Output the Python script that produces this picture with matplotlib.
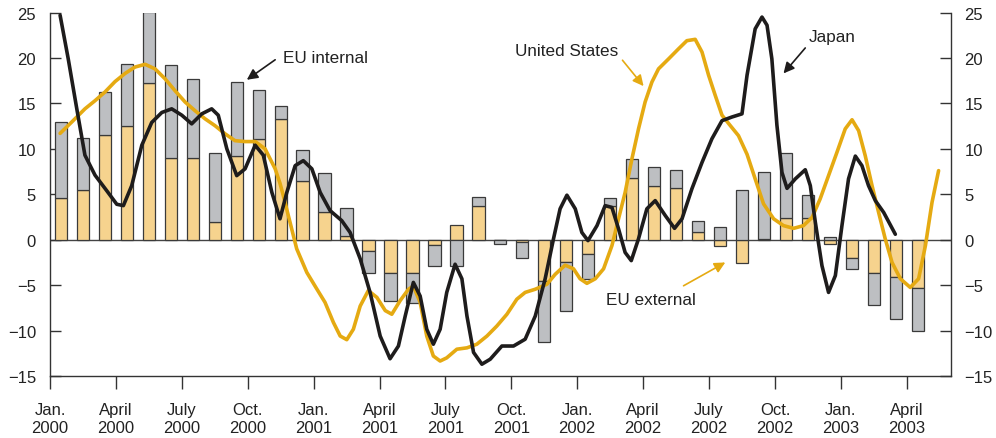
import numpy as np
import matplotlib
matplotlib.use("Agg")
import matplotlib.pyplot as plt

plt.rcParams['font.family'] = ['Liberation Sans', 'DejaVu Sans']

# Monthly bars, Jan 2000 .. Apr 2003 (month index 0 = Jan 2000)
months = np.arange(40)
eu_external = [4.6, 5.5, 11.5, 12.5, 17.2, 9.0, 9.0, 1.9, 9.2, 11.1, 13.3, 6.5,
               3.0, 0.4, -1.2, -3.7, -3.7, -0.55, 1.6, 3.75, 0.0, -0.25, -4.5, -2.4,
               -1.6, 3.7, 6.8, 5.9, 5.65, 0.8, -0.65, -2.55, 0.1, 2.4, 2.4, -0.45,
               -2.0, -3.7, -4.15, -5.35]
eu_internal = [8.3, 5.7, 4.8, 6.8, 7.9, 10.2, 8.7, 7.6, 8.2, 5.4, 1.4, 3.4,
               4.35, 3.1, -2.5, -3.1, -3.3, -2.35, -2.9, 0.95, -0.45, -1.8, -6.8, -5.5,
               -2.7, 0.9, 2.1, 2.15, 2.05, 1.25, 1.45, 5.5, 7.3, 7.1, 2.5, 0.35,
               -1.2, -3.5, -4.6, -4.75]

# Lines (time in months since start of Jan 2000)
japan_t = [0.46, 0.83, 1.22, 1.59, 2.05, 2.58, 3.04, 3.34, 3.72, 4.18, 4.63, 5.09,
           5.54, 6.00, 6.45, 6.91, 7.36, 7.66, 8.05, 8.50, 8.88, 9.34, 9.71, 10.10,
           10.47, 10.78, 11.16, 11.53, 11.92, 12.30, 12.75, 13.28, 13.66, 14.12,
           14.57, 15.03, 15.48, 15.86, 16.17, 16.54, 16.85, 17.15, 17.45, 17.76,
           18.06, 18.44, 18.75, 18.98, 19.28, 19.66, 20.04, 20.57, 21.10, 21.63,
           22.09, 22.54, 22.92, 23.22, 23.53, 23.91, 24.21, 24.49, 24.90, 25.27,
           25.58, 25.88, 26.18, 26.46, 26.79, 27.17, 27.55, 28.01, 28.43, 28.77,
           29.22, 29.68, 30.13, 30.59, 31.04, 31.50, 31.73, 32.10, 32.41, 32.64,
           32.86, 33.09, 33.32, 33.55, 33.93, 34.38, 34.61, 34.84, 35.14, 35.44,
           35.75, 36.05, 36.35, 36.66, 36.96, 37.26, 37.57, 37.95, 38.48]
japan_v = [24.7, 19.9, 14.4, 9.3, 7.1, 5.4, 3.9, 3.75, 5.95, 10.4, 12.9, 14.0,
           14.4, 13.7, 12.75, 13.85, 14.4, 13.7, 10.0, 7.05, 7.8, 10.4, 9.3, 5.2,
           2.3, 5.2, 8.15, 8.7, 7.8, 5.2, 3.2, 2.1, 0.8, -2.1,
           -5.8, -10.6, -13.1, -11.7, -8.4, -4.7, -6.2, -9.85, -11.5, -9.85,
           -5.8, -2.7, -4.3, -8.4, -12.4, -13.7, -13.15, -11.7, -11.7, -10.95,
           -8.4, -4.3, 0.1, 3.4, 4.9, 3.4, 0.8, -0.1, 1.55, 3.75,
           3.55, 1.2, -1.4, -2.3, 0.1, 3.4, 4.3, 2.65, 1.25, 2.3,
           5.6, 8.5, 11.1, 13.1, 13.5, 13.85, 18.1, 23.2, 24.5, 23.6,
           19.9, 12.6, 7.4, 5.65, 6.7, 7.7, 5.95, 1.9, -2.85, -5.8,
           -3.95, 1.55, 6.7, 9.2, 8.15, 5.95, 4.3, 3.0, 0.6]

us_t = [0.46, 0.99, 1.59, 2.05, 2.50, 2.96, 3.42, 3.87, 4.33, 4.78, 5.24, 5.69,
        6.15, 6.60, 7.06, 7.51, 7.97, 8.42, 8.88, 9.34, 9.79, 10.25, 10.47, 10.62,
        10.85, 11.23, 11.69, 12.14, 12.52, 12.90, 13.21, 13.51, 13.81, 14.12,
        14.49, 14.88, 15.26, 15.56, 15.94, 16.32, 16.54, 16.85, 17.15, 17.45,
        17.76, 18.06, 18.52, 18.98, 19.43, 19.89, 20.34, 20.80, 21.25, 21.63,
        22.09, 22.62, 23.00, 23.45, 23.83, 24.13, 24.44, 24.82, 25.20, 25.58,
        25.88, 26.18, 26.49, 26.79, 27.09, 27.40, 27.70, 28.16, 28.61, 28.99,
        29.37, 29.68, 29.98, 30.28, 30.59, 30.97, 31.34, 31.73, 32.10, 32.48,
        32.94, 33.39, 33.85, 34.30, 34.69, 35.06, 35.44, 35.82, 36.20, 36.51,
        36.81, 37.11, 37.42, 37.72, 38.02, 38.33, 38.71, 39.16, 39.54, 39.85,
        40.15, 40.45]
us_v = [11.7, 12.95, 14.4, 15.3, 16.25, 17.4, 18.3, 19.0, 19.3, 18.8, 17.7, 16.4,
        15.15, 14.2, 13.3, 12.55, 11.65, 10.9, 10.8, 10.8, 10.0, 7.8, 6.2, 4.85,
        2.65, -1.0, -3.6, -5.4, -6.9, -9.1, -10.6, -11.0, -9.85, -7.3,
        -5.6, -6.35, -7.8, -8.2, -6.7, -5.45, -5.1, -6.9, -10.6, -12.8,
        -13.35, -13.0, -12.05, -11.9, -11.5, -10.6, -9.5, -8.2, -6.55, -5.8,
        -5.45, -4.9, -3.8, -2.8, -3.2, -4.3, -4.8, -4.3, -3.2, -0.65,
        2.3, 5.2, 8.9, 12.2, 15.15, 17.35, 18.8, 19.9, 21.0, 21.9,
        22.05, 20.65, 18.1, 15.9, 13.7, 12.55, 11.45, 9.4, 6.7, 3.95,
        2.3, 1.55, 1.25, 1.55, 2.45, 4.5, 7.05, 9.6, 12.2, 13.2,
        12.0, 9.25, 5.95, 3.0, 0.1, -2.5, -4.3, -5.25, -4.3, -0.65,
        4.1, 7.6]

tick_months = np.arange(0, 40, 3)
tick_labels = ["Jan.\n2000", "April\n2000", "July\n2000", "Oct.\n2000",
               "Jan.\n2001", "April\n2001", "July\n2001", "Oct.\n2001",
               "Jan.\n2002", "April\n2002", "July\n2002", "Oct.\n2002",
               "Jan.\n2003", "April\n2003"]

ORANGE = '#F6D38E'
GREY = '#BDBFC2'
GOLD = '#E5AA12'
BLACK = '#1E1C1C'
EDGE = '#3A3A3A'

fig = plt.figure(figsize=(9.96, 4.39), dpi=100)
ax = fig.add_axes([0.0502, 0.1412, 0.9043, 0.828])

ext = np.array(eu_external)
intl = np.array(eu_internal)
bottom = np.where(np.sign(intl) == np.sign(ext), ext, 0.0)
x = months + 0.5
ax.axhline(0, color='#444444', lw=1.0, zorder=1)
ax.bar(x, ext, width=0.56, color=ORANGE, edgecolor=EDGE, linewidth=0.9, zorder=2)
ax.bar(x, intl, bottom=bottom, width=0.56, color=GREY, edgecolor=EDGE, linewidth=0.9, zorder=2)

ax.plot(us_t, us_v, color=GOLD, lw=2.6, solid_joinstyle='round', solid_capstyle='round', zorder=3)
ax.plot(japan_t, japan_v, color=BLACK, lw=2.6, solid_joinstyle='round', solid_capstyle='round', zorder=4)

ax.set_xlim(0, 41)
ax.set_ylim(-15, 25)
ax.set_yticks(np.arange(-15, 26, 5))
ax.set_xticks(tick_months)
ax.set_xticklabels(tick_labels, linespacing=1.25)

for s in ['left', 'right', 'bottom']:
    ax.spines[s].set_color('#333333')
    ax.spines[s].set_linewidth(1.0)
ax.spines['top'].set_visible(False)

ax.tick_params(axis='y', direction='in', length=8, width=1, color='#333333',
               left=True, right=True, labelleft=True, labelright=True,
               pad=10, labelsize=12, labelcolor='#222222')
ax.tick_params(axis='x', direction='out', length=9, width=1, color='#333333',
               pad=10, labelsize=12, labelcolor='#222222')

fs = 12.3
ax.text(10.61, 20.1, "EU internal", fontsize=fs, color='#222222', va='center', ha='left')
ax.annotate("", xy=(8.96, 17.6), xytext=(10.25, 19.8),
            arrowprops=dict(arrowstyle='-|>', color=BLACK, lw=1.2, mutation_scale=16,
                            shrinkA=0, shrinkB=0))
ax.text(21.15, 20.85, "United States", fontsize=fs, color='#222222', va='center', ha='left')
ax.annotate("", xy=(27.02, 16.9), xytext=(26.06, 19.75),
            arrowprops=dict(arrowstyle='-|>', color=GOLD, lw=1.2, mutation_scale=16,
                            shrinkA=0, shrinkB=0))
ax.text(34.53, 22.4, "Japan", fontsize=fs, color='#222222', va='center', ha='left')
ax.annotate("", xy=(33.39, 18.3), xytext=(34.38, 21.1),
            arrowprops=dict(arrowstyle='-|>', color=BLACK, lw=1.2, mutation_scale=16,
                            shrinkA=0, shrinkB=0))
ax.text(25.3, -6.55, "EU external", fontsize=fs, color='#222222', va='center', ha='left')
ax.annotate("", xy=(30.74, -2.5), xytext=(28.84, -5.07),
            arrowprops=dict(arrowstyle='-|>', color=GOLD, lw=1.2, mutation_scale=16,
                            shrinkA=0, shrinkB=0))

fig.savefig("out.png", dpi=100)
